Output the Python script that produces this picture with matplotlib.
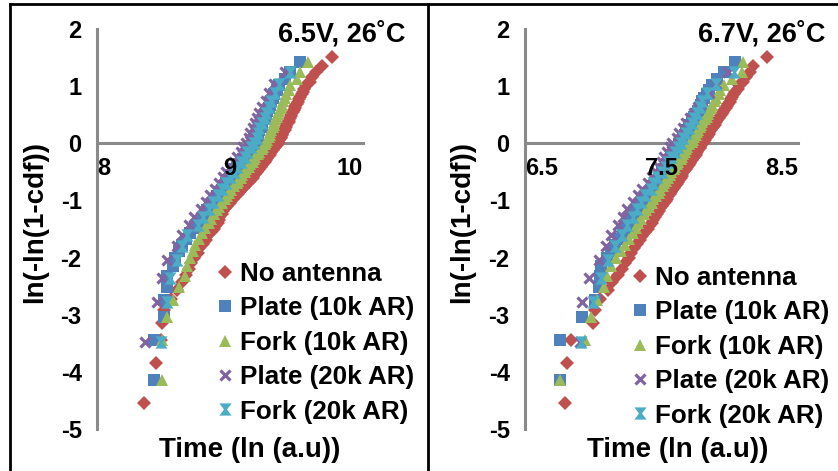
import numpy as np
import matplotlib

matplotlib.use("Agg")
import matplotlib.pyplot as plt
from matplotlib.lines import Line2D

plt.rcParams["font.family"] = ["Liberation Sans", "DejaVu Sans"]
plt.rcParams["font.weight"] = "bold"
plt.rcParams["axes.unicode_minus"] = False

W, H = 838, 471  # output size in px (dpi 100)

# ---- data: sorted ln(time) of every sample, one list per device ----
LABELS = ["No antenna", "Plate (10k AR)", "Fork (10k AR)", "Plate (20k AR)", "Fork (20k AR)"]

# 6.5V, 26C
v65_none = [8.35, 8.44, 8.48, 8.49, 8.50, 8.56, 8.60, 8.64, 8.67, 8.69,
            8.71, 8.73, 8.76, 8.77, 8.80, 8.82, 8.83, 8.86, 8.88, 8.89,
            8.91, 8.92, 8.92, 8.94, 8.95, 8.96, 8.98, 9.00, 9.01, 9.02,
            9.04, 9.06, 9.07, 9.08, 9.10, 9.11, 9.12, 9.14, 9.15, 9.17,
            9.17, 9.19, 9.20, 9.21, 9.22, 9.23, 9.24, 9.25, 9.26, 9.27,
            9.28, 9.28, 9.30, 9.30, 9.31, 9.32, 9.33, 9.34, 9.35, 9.36,
            9.36, 9.37, 9.38, 9.38, 9.39, 9.39, 9.40, 9.41, 9.41, 9.42,
            9.42, 9.43, 9.44, 9.44, 9.45, 9.46, 9.46, 9.47, 9.48, 9.49,
            9.49, 9.50, 9.51, 9.52, 9.53, 9.54, 9.55, 9.56, 9.57, 9.60,
            9.62, 9.65, 9.69, 9.77]
v65_plate10 = [8.43, 8.43, 8.50, 8.50, 8.53, 8.53, 8.57, 8.59, 8.62, 8.64,
               8.67, 8.70, 8.74, 8.76, 8.79, 8.81, 8.83, 8.85, 8.87, 8.88,
               8.90, 8.92, 8.94, 8.95, 8.97, 8.98, 9.00, 9.01, 9.03, 9.04,
               9.05, 9.07, 9.08, 9.10, 9.11, 9.12, 9.14, 9.15, 9.16, 9.17,
               9.18, 9.19, 9.20, 9.21, 9.21, 9.22, 9.23, 9.24, 9.24, 9.25,
               9.26, 9.27, 9.28, 9.29, 9.30, 9.31, 9.32, 9.33, 9.35, 9.37,
               9.41, 9.45, 9.53]
v65_fork10 = [8.49, 8.49, 8.53, 8.57, 8.62, 8.66, 8.68, 8.70, 8.72, 8.74,
              8.77, 8.79, 8.81, 8.84, 8.86, 8.88, 8.90, 8.92, 8.94, 8.96,
              8.98, 8.99, 9.01, 9.03, 9.05, 9.06, 9.08, 9.09, 9.11, 9.12,
              9.14, 9.15, 9.17, 9.18, 9.19, 9.21, 9.22, 9.24, 9.25, 9.26,
              9.27, 9.28, 9.29, 9.30, 9.30, 9.31, 9.32, 9.33, 9.33, 9.34,
              9.35, 9.36, 9.37, 9.38, 9.39, 9.40, 9.41, 9.42, 9.44, 9.45,
              9.50, 9.53, 9.59]
v65_plate20 = [8.36, 8.45, 8.49, 8.53, 8.60, 8.64, 8.69, 8.73, 8.78, 8.82,
               8.85, 8.89, 8.92, 8.95, 8.97, 9.00, 9.03, 9.05, 9.08, 9.10,
               9.12, 9.14, 9.15, 9.17, 9.19, 9.20, 9.22, 9.24, 9.27, 9.29,
               9.33, 9.41]
v65_fork20 = [8.48, 8.53, 8.55, 8.60, 8.64, 8.68, 8.76, 8.80, 8.84, 8.87,
              8.91, 8.94, 8.97, 9.00, 9.03, 9.05, 9.08, 9.11, 9.13, 9.16,
              9.18, 9.20, 9.21, 9.22, 9.24, 9.26, 9.27, 9.29, 9.31, 9.34,
              9.37, 9.45]

# 6.7V, 26C
v67_none = [6.79, 6.81, 6.84, 7.00, 7.01, 7.05, 7.11, 7.14, 7.18, 7.21,
            7.23, 7.26, 7.28, 7.30, 7.32, 7.34, 7.36, 7.38, 7.40, 7.41,
            7.43, 7.44, 7.45, 7.47, 7.48, 7.49, 7.50, 7.52, 7.53, 7.54,
            7.55, 7.56, 7.57, 7.58, 7.59, 7.60, 7.61, 7.62, 7.63, 7.64,
            7.65, 7.65, 7.66, 7.67, 7.68, 7.69, 7.70, 7.71, 7.71, 7.72,
            7.73, 7.74, 7.75, 7.75, 7.76, 7.77, 7.78, 7.78, 7.79, 7.80,
            7.81, 7.82, 7.82, 7.83, 7.84, 7.85, 7.85, 7.86, 7.87, 7.88,
            7.89, 7.89, 7.90, 7.91, 7.92, 7.93, 7.94, 7.95, 7.96, 7.97,
            7.98, 7.99, 8.00, 8.01, 8.02, 8.03, 8.04, 8.06, 8.07, 8.10,
            8.12, 8.15, 8.17, 8.27]
v67_plate10 = [6.76, 6.76, 6.92, 7.01, 7.04, 7.05, 7.06, 7.10, 7.13, 7.16,
               7.19, 7.22, 7.24, 7.26, 7.28, 7.30, 7.32, 7.34, 7.36, 7.37,
               7.39, 7.41, 7.42, 7.44, 7.45, 7.46, 7.48, 7.49, 7.50, 7.52,
               7.53, 7.54, 7.55, 7.57, 7.58, 7.59, 7.60, 7.61, 7.62, 7.63,
               7.65, 7.66, 7.66, 7.67, 7.68, 7.69, 7.70, 7.71, 7.72, 7.73,
               7.74, 7.75, 7.77, 7.78, 7.79, 7.80, 7.81, 7.83, 7.85, 7.87,
               7.91, 7.96, 8.04]
v67_fork10 = [6.76, 6.94, 6.98, 7.03, 7.08, 7.10, 7.13, 7.17, 7.20, 7.23,
              7.26, 7.29, 7.31, 7.33, 7.35, 7.37, 7.39, 7.41, 7.43, 7.44,
              7.46, 7.48, 7.49, 7.51, 7.52, 7.53, 7.55, 7.56, 7.57, 7.59,
              7.60, 7.61, 7.62, 7.64, 7.65, 7.66, 7.67, 7.68, 7.69, 7.70,
              7.72, 7.73, 7.74, 7.75, 7.76, 7.77, 7.78, 7.79, 7.80, 7.82,
              7.83, 7.84, 7.85, 7.86, 7.87, 7.89, 7.90, 7.92, 7.93, 7.96,
              8.02, 8.09, 8.10]
v67_plate20 = [6.90, 6.92, 6.97, 7.04, 7.09, 7.13, 7.18, 7.22, 7.25, 7.29,
               7.33, 7.36, 7.40, 7.43, 7.46, 7.48, 7.50, 7.52, 7.54, 7.56,
               7.58, 7.61, 7.63, 7.66, 7.68, 7.71, 7.74, 7.77, 7.80, 7.85,
               7.90, 7.99]
v67_fork20 = [6.91, 7.00, 7.06, 7.11, 7.16, 7.21, 7.25, 7.29, 7.32, 7.35,
              7.38, 7.42, 7.44, 7.47, 7.50, 7.53, 7.55, 7.57, 7.60, 7.62,
              7.64, 7.66, 7.68, 7.70, 7.72, 7.74, 7.76, 7.78, 7.80, 7.83,
              7.90, 8.03]

# ---- style ----
COLORS = ["#C0504D", "#4F81BD", "#9BBB59", "#8064A2", "#4BACC6"]
HOURGLASS = [(-1, 1), (1, 1), (0.25, 0), (1, -1), (-1, -1), (-0.25, 0), (-1, 1)]
MARKERS = [("D", 7.0, 0.0), ("s", 8.3, 0.0), ("^", 9.3, 0.0), ("x", 7.6, 2.3), (HOURGLASS, 8.8, 0.0)]
AXIS_GRAY = "#8A8A8A"


def weibull_y(times):
    # plotting position: cdf = rank / (n + 1)
    n = len(times)
    cdf = np.arange(1, n + 1) / (n + 1)
    return np.log(-np.log(1 - cdf))


def px_axes(fig, x0, x1, y_top, y_bot):
    return fig.add_axes([x0 / W, 1 - y_bot / H, (x1 - x0) / W, (y_bot - y_top) / H])


def draw_panel(fig, ax, data, xlim, xticks, title, title_x, label_x, ylab_x, leg_xy):
    for times, c, (mk, ms, mew) in zip(data, COLORS, MARKERS):
        ax.plot(times, weibull_y(times), ls="none", marker=mk, ms=ms, mew=mew,
                color=c, mec=c, clip_on=False, zorder=3)
    ax.set_xlim(*xlim)
    ax.set_ylim(-5, 2)
    ax.patch.set_visible(False)
    for s in ("top", "right"):
        ax.spines[s].set_visible(False)
    ax.spines["bottom"].set_position(("data", 0))
    for s in ("left", "bottom"):
        ax.spines[s].set_color(AXIS_GRAY)
        ax.spines[s].set_linewidth(2.2)
        ax.spines[s].set_zorder(2)
    ax.set_yticks(range(-5, 3))
    ax.set_xticks(xticks)
    ax.set_xticklabels([f"{t:g}" for t in xticks])
    ax.tick_params(axis="x", length=0, labelsize=17, pad=10)
    ax.tick_params(axis="y", length=0, labelsize=17, pad=11)
    ax.xaxis.set_zorder(4)
    ax.yaxis.set_zorder(4)
    # Excel keeps the end labels inside the axis span
    ticks = ax.xaxis.get_major_ticks()
    ticks[0].label1.set_horizontalalignment("left")
    ticks[-1].label1.set_horizontalalignment("right")

    fig.text(title_x / W, 1 - 34 / H, title, fontsize=19.5, weight="bold",
             ha="center", va="center")
    fig.text(label_x / W, 1 - 450 / H, "Time (ln (a.u))", fontsize=20, weight="bold",
             ha="center", va="center")
    fig.text(ylab_x / W, 1 - 222 / H, "ln(-ln(1-cdf))", fontsize=20, weight="bold",
             rotation=90, ha="center", va="center")

    handles = [Line2D([], [], ls="none", marker=mk, ms=ms, mew=mew, color=c, mec=c)
               for c, (mk, ms, mew) in zip(COLORS, MARKERS)]
    ax.legend(handles, LABELS, loc="upper left", bbox_to_anchor=(leg_xy[0] / W, 1 - leg_xy[1] / H),
              bbox_transform=fig.transFigure, frameon=False, fontsize=18.7, numpoints=1,
              handlelength=0.6, handletextpad=0.3, labelspacing=0.4, borderpad=0,
              borderaxespad=0)


fig = plt.figure(figsize=(W / 100, H / 100), dpi=100)

ax1 = px_axes(fig, 97, 363, 29, 429)
draw_panel(fig, ax1, [v65_none, v65_plate10, v65_fork10, v65_plate20, v65_fork20],
           (8, 10), [8, 9, 10], "6.5V, 26˚C", 342, 250, 35, (217, 262))

ax2 = px_axes(fig, 525, 798, 29, 429)
draw_panel(fig, ax2, [v67_none, v67_plate10, v67_fork10, v67_plate20, v67_fork20],
           (6.5, 8.5), [6.5, 7.5, 8.5], "6.7V, 26˚C", 762, 678, 462, (632, 266))

# panel frame lines
for x0, y0, x1, y1 in [(10, 4, W, 4), (10, 4, 10, H), (428, 4, 428, H)]:
    fig.add_artist(Line2D([x0 / W, x1 / W], [1 - y0 / H, 1 - y1 / H], color="black",
                          lw=2.0, transform=fig.transFigure))

fig.savefig("out.png", dpi=100)
